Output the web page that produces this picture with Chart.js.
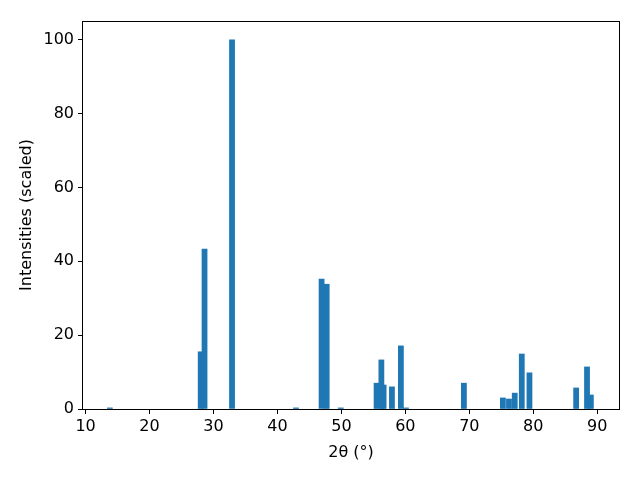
<!DOCTYPE html>
<html>
<head>
<meta charset="utf-8">
<script src="https://cdn.jsdelivr.net/npm/chart.js@4/dist/chart.umd.min.js"></script>
<style>
  html, body { margin: 0; padding: 0; background: #fff; }
  #wrap { width: 640px; height: 480px; }
</style>
</head>
<body>
<div id="wrap"><canvas id="xrd"></canvas></div>
<script>
// peak positions (2theta, degrees) and scaled intensities
const twoTheta = [13.8, 28.0, 28.6, 32.9, 42.9, 46.9, 47.7, 49.9, 55.5, 56.25, 56.6, 57.9, 59.3, 60.1,
                  69.15, 75.25, 76.2, 77.1, 78.2, 79.4, 86.7, 88.4, 89.0];
const intensities = [0.3, 15.5, 43.3, 100, 0.3, 35.2, 33.8, 0.3, 7.0, 13.3, 6.5, 6.0, 17.1, 0.3,
                     7.0, 3.0, 2.7, 4.3, 14.9, 9.8, 5.7, 11.4, 3.8];
const xTicks = [10, 20, 30, 40, 50, 60, 70, 80, 90];
const yTicks = [0, 20, 40, 60, 80, 100];

const barWidth = 0.8; // in degrees, like matplotlib's default

Chart.defaults.font.family = 'DejaVu Sans';
Chart.defaults.font.size = 16;
Chart.defaults.color = '#000';

// box around the plot area (matplotlib spines)
const frame = {
    id: 'frame',
    afterDatasetsDraw(chart) {
        const a = chart.chartArea;
        const c = chart.ctx;
        c.save();
        c.strokeStyle = '#000';
        c.lineWidth = 1;
        c.strokeRect(Math.round(a.left) - 0.5, Math.round(a.top) + 0.5,
                     Math.round(a.right - a.left) + 1, Math.round(a.bottom - a.top));
        c.restore();
    }
};

const points = twoTheta.map((t, i) => ({ x: t, y: intensities[i] }));

new Chart(document.getElementById('xrd'), {
    type: 'bar',
    data: {
        datasets: [{
            data: points,
            backgroundColor: '#1f77b4',
            borderWidth: 0,
            barThickness: (ctx) => {
                const s = ctx.chart.scales.x;
                if (!s) return 5;
                return Math.abs(s.getPixelForValue(barWidth) - s.getPixelForValue(0));
            }
        }]
    },
    options: {
        responsive: true,
        maintainAspectRatio: false,
        animation: false,
        layout: { padding: { top: 21, right: 21, left: 0, bottom: 0 } },
        plugins: {
            legend: { display: false },
            tooltip: { enabled: false }
        },
        scales: {
            x: {
                type: 'linear',
                min: 9.6,
                max: 93.4,
                offset: false,
                afterBuildTicks: (scale) => { scale.ticks = xTicks.map(v => ({ value: v })); },
                afterFit: (scale) => { scale.height = 71; },
                grid: { offset: false, drawOnChartArea: false, drawTicks: true, tickLength: 5, color: '#000' },
                border: { display: false },
                ticks: { padding: 3, maxRotation: 0, autoSkip: false },
                title: { display: true, text: '2θ (°)', padding: { top: 0, bottom: 18 } }
            },
            y: {
                min: 0,
                max: 105.1,
                afterBuildTicks: (scale) => { scale.ticks = yTicks.map(v => ({ value: v })); },
                afterFit: (scale) => { scale.width = 83; },
                grid: { drawOnChartArea: false, drawTicks: true, tickLength: 5, color: '#000' },
                border: { display: false },
                ticks: { padding: 4 },
                title: { display: true, text: 'Intensities (scaled)', padding: { top: 17, bottom: 0 } }
            }
        }
    },
    plugins: [frame]
});
</script>
</body>
</html>
